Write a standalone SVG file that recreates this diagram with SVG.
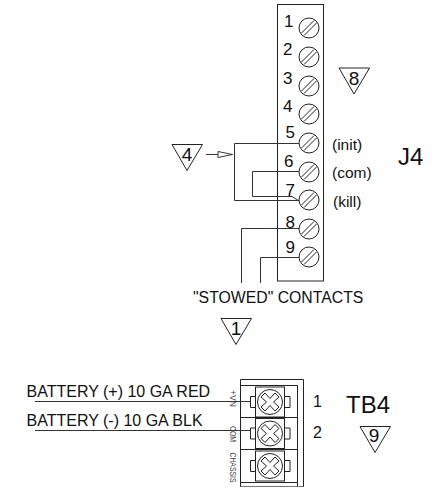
<svg xmlns="http://www.w3.org/2000/svg" width="434" height="488" viewBox="0 0 434 488">
<defs>
<g id="slot"><circle r="10" fill="#fff" stroke="#222" stroke-width="1"/><path d="M-7.500 5L5-7.500M-5 7.500L7.500-5" fill="none" stroke="#222" stroke-width="1"/></g>
<g id="cross"><rect x="-14.500" y="-15" width="29" height="30" fill="#fff" stroke="#222"/><circle r="12.500" fill="#fff" stroke="#222"/><path d="M-9-5L-5-9L0-3.500L5-9L9-5L3.500 0L9 5L5 9L0 3.500L-5 9L-9 5L-3.500 0Z" fill="#fff" stroke="#222"/><path d="M-14.500-5.500H-19.500V5.500H-14.500M14.500-5.500H20V5.500H14.500" fill="none" stroke="#222"/></g>
<path id="tri" d="M-15 0H15.500L0 26Z" fill="none" stroke="#222" stroke-width="1"/>
</defs>
<style>
text{font-family:"Liberation Sans",Arial,sans-serif;fill:#111}
.w{fill:none;stroke:#333;stroke-width:1}
.n{font-size:17px}
.f{font-size:19px}
.l{font-size:15.500px}
.s{font-size:16px}
.c{font-size:15.800px}
.t{font-size:24px}
.v{font-size:9px;fill:#444}
</style>
<g id="J4-block"><rect x="277.500" y="4.500" width="46" height="276.500" fill="#fff" stroke="#222"/></g>
<g id="terminals">
<use href="#slot" x="309" y="28"/><use href="#slot" x="309" y="57"/><use href="#slot" x="309" y="86"/><use href="#slot" x="309" y="114"/><use href="#slot" x="309" y="143"/><use href="#slot" x="309" y="172"/><use href="#slot" x="309" y="200"/><use href="#slot" x="309" y="229"/><use href="#slot" x="309" y="257"/>
</g>
<g id="connectors">
<path class="w" d="M299 143.500H234.500V200.500H299"/>
<path class="w" d="M299 171.500H252.500V196.500H292L299 201"/>
<path class="w" d="M299 228.500H241.500V283"/>
<path class="w" d="M299 257.500H260.500V283"/>
<path class="w" d="M206 154.500H220"/>
<path d="M218 151.500L232.500 154.500L218 157.500Z" fill="#fff" stroke="#333"/>
</g>
<g id="J4-labels">
<text class="n" x="284" y="27">1</text><text class="n" x="283" y="55">2</text><text class="n" x="283" y="83.500">3</text><text class="n" x="283" y="112">4</text><text class="n" x="285.500" y="138">5</text><text class="n" x="284" y="167">6</text><text class="n" x="285.500" y="196">7</text><text class="n" x="285.500" y="227.500">8</text><text class="n" x="285.500" y="252.500">9</text>
<text class="l" x="332" y="150">(init)</text><text class="l" x="332" y="178">(com)</text><text class="l" x="333" y="207">(kill)</text>
<text class="t" x="398" y="165">J4</text>
<text class="c" x="193" y="303">"STOWED" CONTACTS</text>
</g>
<g id="flag-8"><use href="#tri" x="354" y="68"/><text class="f" x="354" y="85" text-anchor="middle">8</text></g>
<g id="flag-4"><use href="#tri" x="187" y="144.500"/><text class="f" x="187" y="161" text-anchor="middle">4</text></g>
<g id="flag-1"><use href="#tri" x="236" y="318.500"/><text class="f" x="236" y="335" text-anchor="middle">1</text></g>
<g id="flag-9"><use href="#tri" x="375" y="426.500"/><text class="f" x="374" y="442" text-anchor="middle">9</text></g>
<g id="TB4">
<path d="M240.500 487V379.500H303.500V487M240.500 385.500H297.500V487M240.500 417.500H297.500M240.500 449.500H297.500M240.500 482.500H297.500" fill="none" stroke="#222"/>
<path d="M240.500 486.500H303.500" fill="none" stroke="#777"/>
<use href="#cross" x="270" y="402"/><use href="#cross" x="270" y="433.500"/><use href="#cross" x="270" y="466"/>
<text class="v" transform="translate(230 390) rotate(90) scale(.96 1)">+VN</text>
<text class="v" transform="translate(230 426) rotate(90) scale(.77 1)">COM</text>
<text class="v" transform="translate(230 452.500) rotate(90) scale(.76 1)">CHASSIS</text>
<text class="s" x="313" y="407">1</text><text class="s" x="313" y="438">2</text>
<text class="t" x="346" y="413">TB4</text>
</g>
<g id="battery">
<path class="w" d="M35 401.500H250M35 430.500H250"/>
<text class="s" x="26.500" y="397">BATTERY (+) 10 GA RED</text>
<text class="s" x="26.500" y="426">BATTERY (-) 10 GA BLK</text>
</g>
</svg>
